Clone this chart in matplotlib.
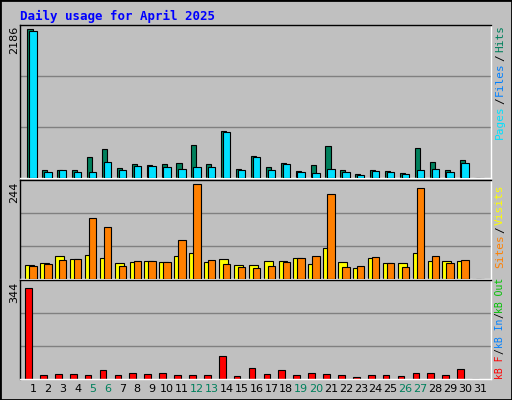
import matplotlib
matplotlib.use("Agg")
import matplotlib.pyplot as plt
import numpy as np

days = list(range(1, 32))
hits = [2186,114,124,114,307,420,153,213,198,213,227,480,213,687,138,317,168,227,109,198,465,124,64,124,109,79,435,242,124,272,0]
files = [2170,94,124,94,94,242,124,183,183,168,138,168,168,672,124,302,124,213,94,79,138,94,49,109,94,64,124,138,94,227,0]
visits = [35,41,59,51,62,54,41,43,46,43,59,67,43,51,35,35,46,46,54,38,80,43,27,54,41,41,67,46,46,46,0]
sites = [33,38,48,51,157,133,33,46,46,43,101,244,48,38,30,27,33,43,54,59,218,30,33,56,41,30,233,59,41,48,0]
kbytes = [344,16,20,20,16,35,16,24,20,24,16,16,16,88,13,43,20,35,16,24,20,16,9,16,16,13,24,24,16,39,0]
weekends = [5,6,12,13,19,20,26,27]

W, H = 512, 400
fig = plt.figure(figsize=(W/100, H/100), dpi=100, facecolor="#C0C0C0")
mono = "DejaVu Sans Mono"

def ax_at(x0, y0, x1, y1):
    ax = fig.add_axes([x0/W, 1-y1/H, (x1-x0)/W, (y1-y0)/H])
    ax.set_facecolor("#C0C0C0")
    ax.set_xlim(0.13, 31.74)
    ax.set_xticks([]); ax.set_yticks([])
    for s in ax.spines.values():
        s.set_color("black"); s.set_linewidth(1)
    ax.spines["bottom"].set_color("white"); ax.spines["right"].set_color("white")
    return ax

x = np.array(days, dtype=float)
ec = dict(edgecolor="black", linewidth=0.8)

a1 = ax_at(20, 25, 491, 178)
a1.set_ylim(0, 2186*1.03)
for g in [1/3, 2/3]:
    a1.axhline(2186*1.03*g, color="#808080", lw=1, zorder=0)
a1.bar(x-0.2, hits, width=0.34, color="#00805C", zorder=2, **ec)
a1.bar(x+0.0, files, width=0.5, color="#00E0FF", zorder=3, **ec)

a2 = ax_at(20, 180, 491, 279)
a2.set_ylim(0, 244*1.04)
for g in [1/3, 2/3]:
    a2.axhline(244*1.04*g, color="#808080", lw=1, zorder=0)
a2.bar(x-0.22, visits, width=0.6, color="#FFFF00", zorder=2, **ec)
a2.bar(x+0.0, sites, width=0.5, color="#FF8000", zorder=3, **ec)

a3 = ax_at(20, 280, 491, 379)
a3.set_ylim(0, 344*1.09)
for g in [1/3, 2/3]:
    a3.axhline(344*1.09*g, color="#808080", lw=1, zorder=0)
a3.bar(x-0.3, kbytes, width=0.45, color="#FF0000", zorder=2, **ec)

def ftxt(px, py, s, **kw):
    fig.text(px/W, 1-py/H, s, **kw)

ftxt(20, 16, "Daily usage for April 2025", color="#0000FF", fontsize=9, family=mono, fontweight="bold", va="center")
for d in days:
    c = "#00805C" if d in weekends else "black"
    ftxt(33+14.9*(d-1), 389, str(d), color=c, fontsize=8, family="DejaVu Sans", ha="center", va="center")
ftxt(14, 40, "2186", rotation=90, fontsize=8, ha="center", va="center")
ftxt(14, 192, "244", rotation=90, fontsize=8, ha="center", va="center")
ftxt(14, 292, "344", rotation=90, fontsize=8, ha="center", va="center")

def side(parts, ybottom, ch, fs):
    y = ybottom
    for s, c in parts:
        h = len(s)*ch
        ftxt(500, y - h/2, s, rotation=90, color=c, fontsize=fs, family=mono, ha="center", va="center")
        y -= h + ch*0.6
side([("Pages", "#00E0FF"), ("/", "black"), ("Files", "#0080FF"), ("/", "black"), ("Hits", "#00805C")], 137, 6.0, 8)
side([("Sites", "#FF8000"), ("/", "black"), ("Visits", "#FFFF00")], 266, 6.0, 8)
side([("kB F", "#FF0000"), ("/", "black"), ("kB In", "#0080FF"), ("/", "black"), ("kB Out", "#00C000")], 377, 5.0, 7)

fr = fig.add_axes([0, 0, 1, 1], facecolor="none")
fr.set_xticks([]); fr.set_yticks([])
for s in fr.spines.values():
    s.set_color("black"); s.set_linewidth(2)
fig.savefig("out.png", dpi=100, facecolor="#C0C0C0")
